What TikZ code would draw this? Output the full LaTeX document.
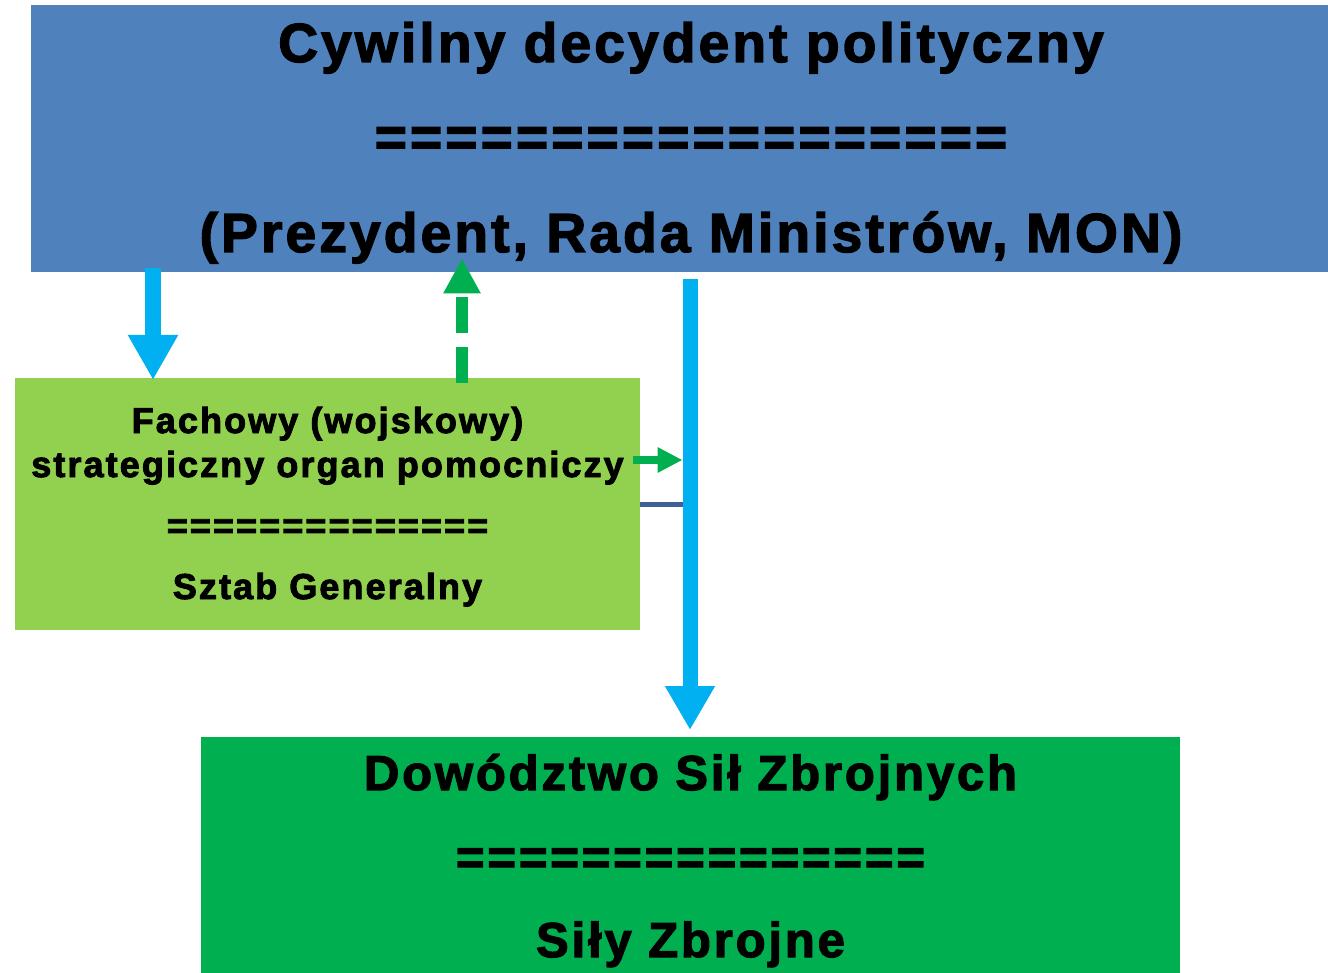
\documentclass[tikz,border=0pt]{standalone}
\usepackage{fontspec}
\setmainfont{Liberation Sans}
\newfontfamily\heavy{Liberation Sans Bold}[FakeBold=2.5,LetterSpace=5.8]
\usetikzlibrary{arrows.meta}
\definecolor{topblue}{HTML}{4F81BD}
\definecolor{lgreen}{HTML}{92D050}
\definecolor{dgreen}{HTML}{00B050}
\definecolor{skyblue}{HTML}{00B0F0}
\definecolor{navy}{HTML}{3F5F97}
\tikzset{
  box/.style={fill=#1, draw=none, inner sep=0pt, anchor=north west},
  bigtxt/.style={font=\heavy\fontsize{55}{64}\selectfont, anchor=base, inner sep=0pt},
  midtxt/.style={font=\heavy\fontsize{36}{42}\selectfont, anchor=base, inner sep=0pt},
  bottxt/.style={font=\heavy\fontsize{49}{58}\selectfont, anchor=base, inner sep=0pt},
  bluearrow/.style={draw=skyblue, line width=16pt, -{Triangle[width=47pt,length=45pt]}},
  longarrow/.style={draw=skyblue, line width=15pt, -{Triangle[width=47pt,length=44pt]}},
  greendash/.style={draw=dgreen, line width=12pt, dash pattern=on 36pt off 14pt, -{Triangle[width=35pt,length=35pt]}},
  greenarrow/.style={draw=dgreen, line width=8pt, -{Triangle[width=24pt,length=25pt]}},
  navyline/.style={draw=navy, line width=5pt}
}
\begin{document}
\begin{tikzpicture}[x=1pt,y=-1pt]
\useasboundingbox (0,0) rectangle (1328,973);
\fill[white] (0,0) rectangle (1328,973);
% boxes
\node[box=topblue, minimum width=1297pt, minimum height=267pt] (top) at (31,5) {};
\node[box=lgreen, minimum width=625pt, minimum height=252pt] (mid) at (15,378) {};
\node[box=dgreen, minimum width=979pt, minimum height=236pt] (bot) at (201,737) {};
% texts
\node[bigtxt] (t1) at (691,62) {Cywilny decydent polityczny};
\node[bigtxt] (t2) at (691,156) {==================};
\node[bigtxt] (t3) at (691,252) {(Prezydent, Rada Ministrów, MON)};
\node[midtxt] (m1) at (327.5,433) {Fachowy (wojskowy)};
\node[midtxt] (m2) at (327.5,477) {strategiczny organ pomocniczy};
\node[midtxt] (m3) at (327.5,538) {==============};
\node[midtxt] (m4) at (327.5,599) {Sztab Generalny};
\node[bottxt] (b1) at (690.5,790) {Dowództwo Sił Zbrojnych};
\node[bottxt] (b2) at (690.5,874) {===============};
\node[bottxt] (b3) at (690.5,957) {Siły Zbrojne};
% connectors
\coordinate (xa) at (153,0);
\coordinate (xg) at (462,0);
\coordinate (xv) at (690,0);
\coordinate (yg) at (0,460);
\coordinate (yn) at (0,504);
\draw[bluearrow] ([yshift=4pt]xa |- top.south) -- ([yshift=-2pt]xa |- mid.north);
\draw[greendash] ([yshift=-5pt]xg |- mid.north) -- ([yshift=14pt]xg |- top.south);
\draw[longarrow] ([yshift=-7pt]xv |- top.south) -- ([yshift=7pt]xv |- bot.north);
\draw[greenarrow] ([xshift=-7pt]mid.east |- yg) -- ([xshift=-7.5pt]xv |- yg);
\draw[navyline] (mid.east |- yn) -- ([xshift=-7.5pt]xv |- yn);
\end{tikzpicture}
\end{document}
